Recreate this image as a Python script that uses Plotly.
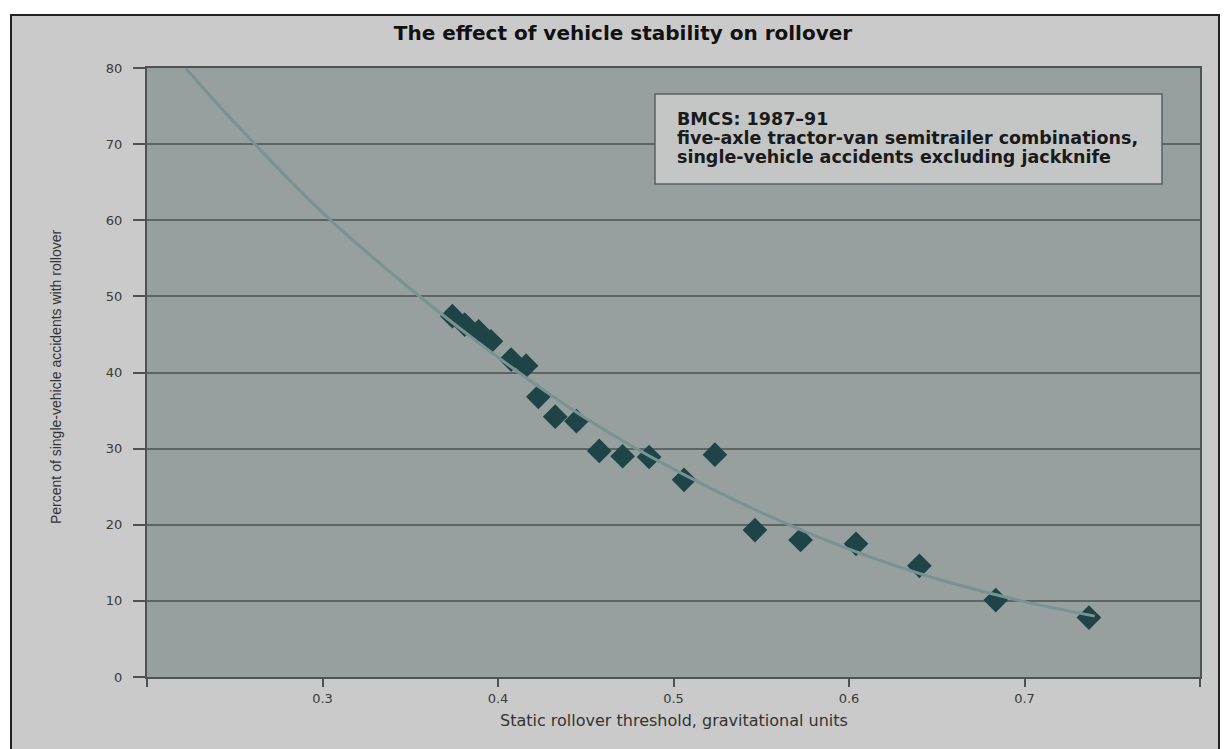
import plotly.graph_objects as go

# ---- data ----
srt = [0.374, 0.381, 0.389, 0.396, 0.4075, 0.416, 0.423, 0.4326, 0.4447, 0.4577,
       0.471, 0.4861, 0.506, 0.5236, 0.5464, 0.5724, 0.604, 0.6401, 0.6836, 0.7367]
pct_rollover = [47.4, 46.3, 45.4, 44.1, 41.7, 40.9, 36.8, 34.2, 33.6, 29.7,
                29.0, 28.9, 25.9, 29.2, 19.3, 18.0, 17.5, 14.6, 10.1, 7.8]

trend_x = [0.222, 0.25, 0.30, 0.35, 0.40, 0.45, 0.50, 0.55, 0.60, 0.65, 0.70, 0.74]
trend_y = [80, 72.8, 61, 51, 42, 34.0, 27.3, 21.6, 16.8, 12.9, 9.9, 8.0]

x_tickvals = [0.2, 0.3, 0.4, 0.5, 0.6, 0.7, 0.8]
x_ticktext = ["", "0.3", "0.4", "0.5", "0.6", "0.7", ""]
y_tickvals = [0, 10, 20, 30, 40, 50, 60, 70, 80]

title_text = "The effect of vehicle stability on rollover"
x_title = "Static rollover threshold, gravitational units"
y_title = "Percent of single-vehicle accidents with rollover"
note_lines = ["BMCS: 1987\u201391",
              "five-axle tractor-van semitrailer combinations,",
              "single-vehicle accidents excluding jackknife"]

W, H = 1226, 749
L, R, T, B = 147, 26, 68, 72
pw, ph = W - L - R, H - T - B


def px_x(p):
    return (p - L) / pw


def px_y(p):
    return (H - B - p) / ph


FONT = "Arial, Liberation Sans, sans-serif"
WIDE = "DejaVu Sans, Verdana, sans-serif"

fig = go.Figure()
fig.add_trace(go.Scatter(
    x=srt, y=pct_rollover, mode="markers",
    marker=dict(symbol="diamond", size=19, color="#1f4448",
                line=dict(width=0)),
    showlegend=False, hoverinfo="x+y"))
fig.add_trace(go.Scatter(
    x=trend_x, y=trend_y, mode="lines",
    line=dict(color="#789393", width=3, shape="spline", smoothing=1.0),
    showlegend=False, hoverinfo="skip"))

shapes = [
    # outer chart frame
    dict(type="rect", xref="paper", yref="paper",
         x0=px_x(11), x1=px_x(1219), y0=px_y(770), y1=px_y(15),
         fillcolor="#cacaca", line=dict(color="#222222", width=2), layer="below"),
    # plot area fill
    dict(type="rect", xref="paper", yref="paper",
         x0=0, x1=1, y0=0, y1=1,
         fillcolor="#97a09f", line=dict(width=0), layer="below"),
    # note box
    dict(type="rect", xref="paper", yref="paper",
         x0=px_x(655), x1=px_x(1162), y0=px_y(184), y1=px_y(94),
         fillcolor="#c4c6c6", line=dict(color="#5a6060", width=1.5), layer="above"),
]

annotations = []
for line_text, yc in zip(note_lines, [119, 138, 157]):
    annotations.append(dict(
        text=line_text, xref="paper", yref="paper",
        x=px_x(675), y=px_y(yc), xanchor="left", yanchor="middle",
        align="left", showarrow=False,
        font=dict(family=WIDE, size=17.5, color="#1a1a1a", weight="bold")))

annotations += [
    dict(text=y_title, xref="paper", yref="paper",
         x=px_x(56), y=px_y(377), xanchor="center", yanchor="middle",
         textangle=-90, showarrow=False,
         font=dict(family=FONT, size=14, color="#333333")),
    dict(text=x_title, xref="paper", yref="paper",
         x=px_x(674), y=px_y(720), xanchor="center", yanchor="middle",
         showarrow=False,
         font=dict(family=WIDE, size=16, color="#333333")),
]

fig.update_layout(
    width=W, height=H,
    margin=dict(l=L, r=R, t=T, b=B, pad=0),
    paper_bgcolor="white",
    plot_bgcolor="rgba(0,0,0,0)",
    title=dict(text=title_text, x=623 / W, xanchor="center",
               y=1 - 33 / H, yanchor="middle",
               font=dict(family=WIDE, size=20, color="#111111", weight="bold")),
    shapes=shapes,
    annotations=annotations,
    xaxis=dict(range=[0.2, 0.8], tickvals=x_tickvals, ticktext=x_ticktext,
               showgrid=False, zeroline=False,
               showline=True, linecolor="#4d5353", linewidth=2, mirror=True,
               ticks="outside", ticklen=8, tickwidth=1.5, tickcolor="#4d5353",
               tickfont=dict(family=WIDE, size=13, color="#3a3a3a")),
    yaxis=dict(range=[0, 80], tickvals=y_tickvals,
               showgrid=True, gridcolor="#5e6565", gridwidth=2,
               zeroline=False,
               showline=True, linecolor="#4d5353", linewidth=2, mirror=True,
               ticks="outside", ticklen=12, tickwidth=1.5, tickcolor="#4d5353",
               ticklabelstandoff=8,
               tickfont=dict(family=WIDE, size=13, color="#3a3a3a")),
)

fig.write_html("out.html")
